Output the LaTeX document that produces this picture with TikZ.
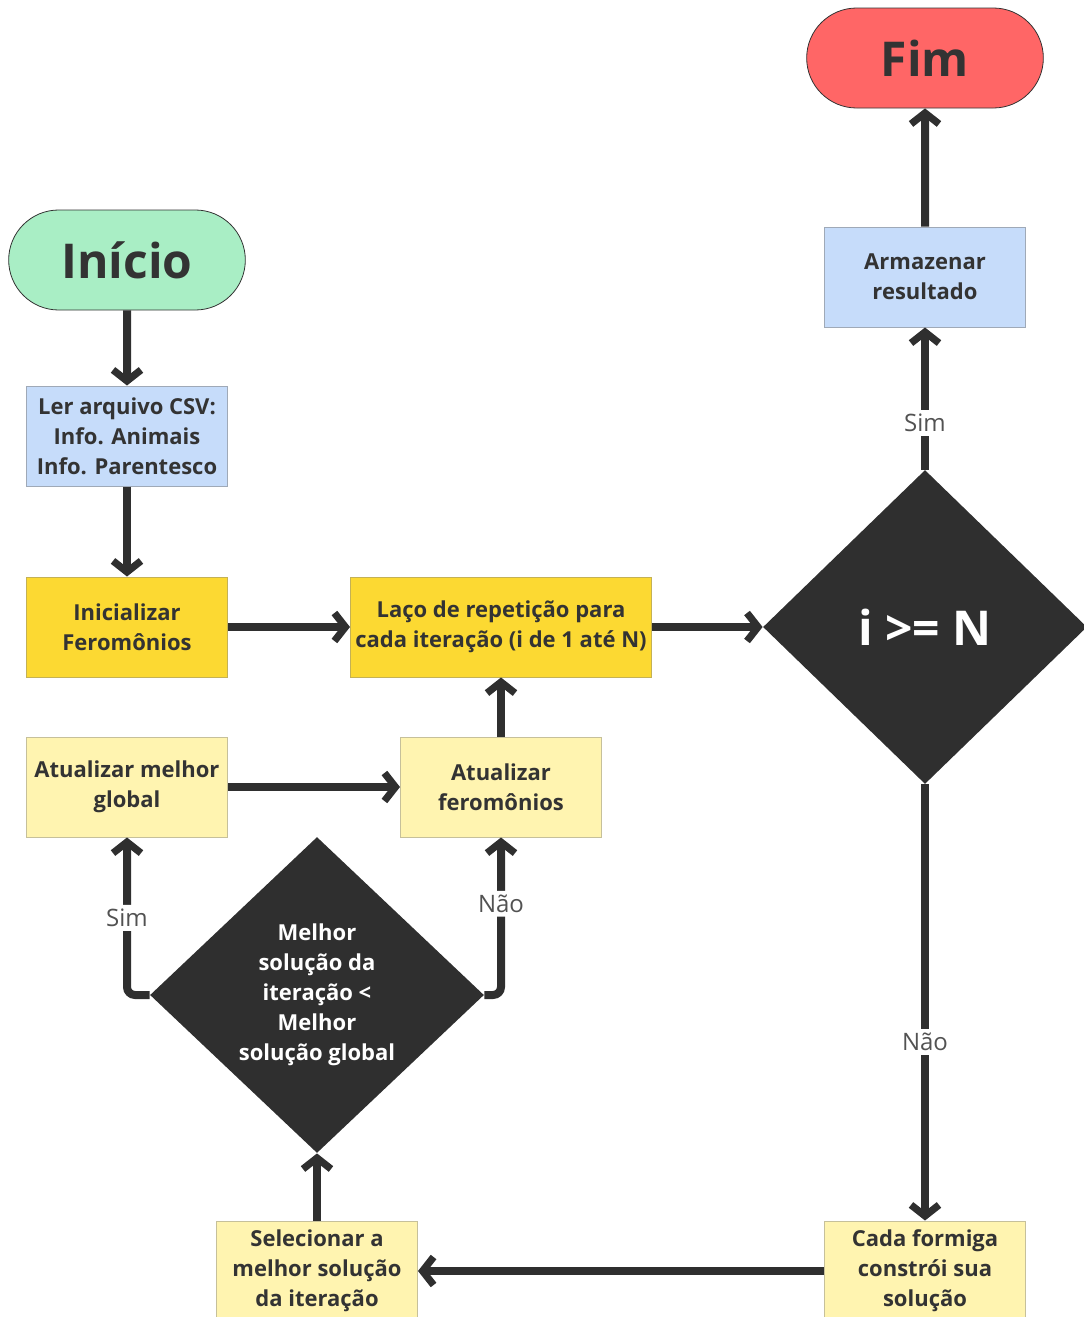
\documentclass[tikz,border=0pt]{standalone}
\usepackage{fontspec}
\setmainfont{Open Sans}
\usetikzlibrary{arrows.meta,shapes.geometric,shapes.misc}
\definecolor{inig}{HTML}{A9EEC5}
\definecolor{fimr}{HTML}{FF6666}
\definecolor{azul}{HTML}{C6DCFA}
\definecolor{ouro}{HTML}{FCD932}
\definecolor{amar}{HTML}{FFF4B0}
\definecolor{escuro}{HTML}{2F2F2F}
\definecolor{texto}{HTML}{333333}

\begin{document}
\begin{tikzpicture}[x=0.5pt,y=-0.5pt,>={Straight Barb[length=5.5pt,width=14pt,line width=3.6pt]},font=\bfseries\fontsize{11}{15}\selectfont,text=texto,
term/.style={rounded rectangle,draw=texto,line width=0.4pt,minimum width=125pt,minimum height=50pt,font=\bfseries\fontsize{24}{28}\selectfont},
block/.style={draw,line width=0.5pt,minimum width=100.5pt,minimum height=50pt,inner sep=2pt,align=center},
decisao/.style={diamond,fill=escuro,text=white,inner sep=0pt,align=center},
line/.style={->,draw=escuro,line width=4pt},
rotulo/.style={fill=white,font=\fontsize{12}{14}\selectfont,text=texto!85,inner sep=2pt}]
\useasboundingbox (0,0) rectangle (1083,1317);
\node[term,fill=inig] (inicio) at (127,260) {Início};
\node[term,fill=fimr] (fim) at (925,58) {Fim};
\node[block,fill=azul,draw=azul!45!gray] (ler) at (127,436) {Ler arquivo CSV:\\Info. Animais\\Info. Parentesco};
\node[block,fill=ouro,draw=ouro!55!gray] (inic) at (127,627) {Inicializar\\Feromônios};
\node[block,fill=ouro,draw=ouro!55!gray,minimum width=150.5pt] (laco) at (501,627) {Laço de repetição para\\cada iteração (i de 1 até N)};
\node[decisao,minimum width=162pt,minimum height=157pt,font=\bfseries\fontsize{24}{28}\selectfont] (teste) at (925,627) {i >= N};
\node[block,fill=azul,draw=azul!45!gray] (armaz) at (925,277) {Armazenar\\resultado};
\node[block,fill=amar,draw=amar!55!gray] (global) at (127,787) {Atualizar melhor\\global};
\node[block,fill=amar,draw=amar!55!gray] (ferom) at (501,787) {Atualizar\\feromônios};
\node[decisao,minimum width=167pt,minimum height=158pt] (melhor) at (317,995) {Melhor\\solução da\\iteração <\\Melhor\\solução global};
\node[block,fill=amar,draw=amar!55!gray] (selec) at (317,1271) {Selecionar a\\melhor solução\\da iteração};
\node[block,fill=amar,draw=amar!55!gray] (formiga) at (925,1271) {Cada formiga\\constrói sua\\solução};
% fluxo principal
\draw[line] (inicio) -- (ler);
\draw[line] (ler) -- (inic);
\draw[line] (inic) -- (laco);
\draw[line] (laco) -- (teste);
\draw[line] (teste) -- node[rotulo,pos=.33]{Sim} (armaz);
\draw[line] (armaz) -- (fim);
\draw[line] (teste) -- node[rotulo,pos=.59]{Não} (formiga);
\draw[line] (formiga) -- (selec);
\draw[line] (selec) -- (melhor);
\draw[line,rounded corners=4pt] (melhor.west) -| node[rotulo,pos=.745]{Sim} (global);
\draw[line,rounded corners=4pt] (melhor.east) -| node[rotulo,pos=.79]{Não} (ferom);
\draw[line] (global) -- (ferom);
\draw[line] (ferom) -- (laco);
\end{tikzpicture}
\end{document}
